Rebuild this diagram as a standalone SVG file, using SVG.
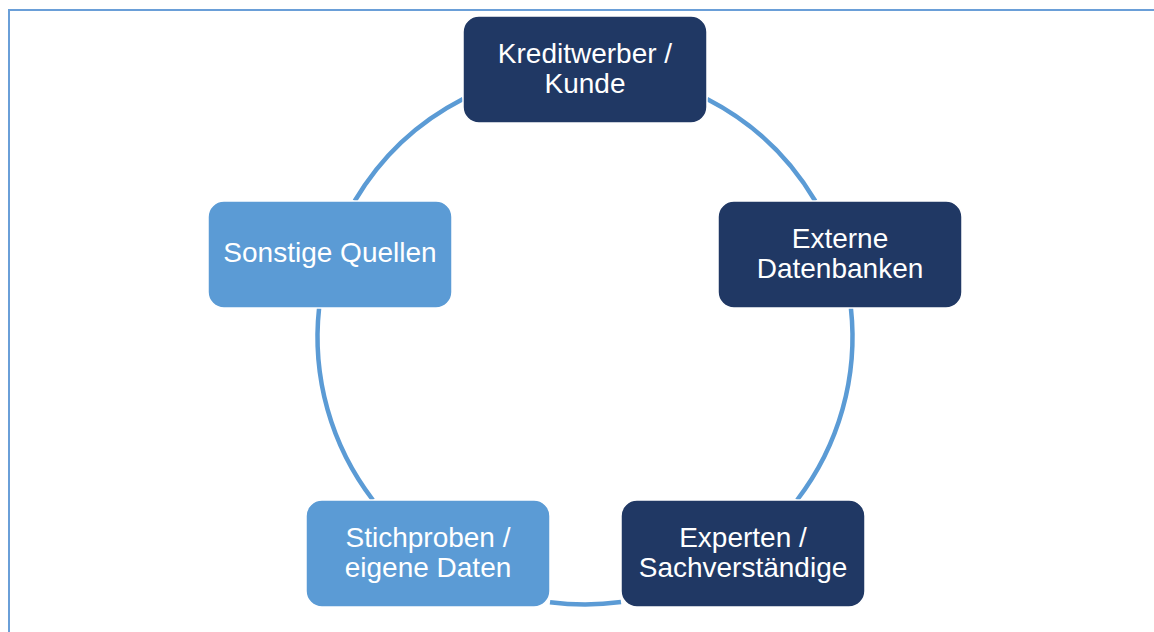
<svg xmlns="http://www.w3.org/2000/svg" width="1154" height="632" viewBox="0 0 1154 632">
  <style>
    .dark { fill: #203864; stroke: #ffffff; stroke-width: 1.5; }
    .light { fill: #5B9BD5; stroke: #ffffff; stroke-width: 1.5; }
    .lbl { font-family: "Liberation Sans", Arial, sans-serif; font-size: 28px; fill: #ffffff; text-anchor: middle; }
    .arc { fill: none; stroke: #5B9BD5; stroke-width: 4.5; }
  </style>
  <rect x="0" y="0" width="1154" height="632" fill="#ffffff"/>
  <rect x="9" y="10" width="1200" height="700" fill="none" stroke="#6A9FD8" stroke-width="2"/>
  <g id="connectors">
    <path class="arc" d="M707,98.9 A267.5,267.5 0 0 1 815.3,201"/>
    <path class="arc" d="M850.9,308 A267.5,267.5 0 0 1 797.1,500"/>
    <path class="arc" d="M621,602.1 A267.5,267.5 0 0 1 550,602.2"/>
    <path class="arc" d="M372.9,500 A267.5,267.5 0 0 1 319.1,308"/>
    <path class="arc" d="M354.7,201 A267.5,267.5 0 0 1 463,98.9"/>
  </g>
  <g id="node-kreditwerber">
    <rect class="dark" x="463" y="16" width="244" height="107" rx="16"/>
    <text class="lbl" x="585" y="63">Kreditwerber /</text>
    <text class="lbl" x="585" y="93">Kunde</text>
  </g>
  <g id="node-externe">
    <rect class="dark" x="718" y="201" width="244" height="107" rx="16"/>
    <text class="lbl" x="840" y="248">Externe</text>
    <text class="lbl" x="840" y="278">Datenbanken</text>
  </g>
  <g id="node-experten">
    <rect class="dark" x="621" y="500" width="244" height="107" rx="16"/>
    <text class="lbl" x="743" y="547">Experten /</text>
    <text class="lbl" x="743" y="577">Sachverständige</text>
  </g>
  <g id="node-stichproben">
    <rect class="light" x="306" y="500" width="244" height="107" rx="16"/>
    <text class="lbl" x="428" y="547">Stichproben /</text>
    <text class="lbl" x="428" y="577">eigene Daten</text>
  </g>
  <g id="node-sonstige">
    <rect class="light" x="208" y="201" width="244" height="107" rx="16"/>
    <text class="lbl" x="330" y="262">Sonstige Quellen</text>
  </g>
</svg>
